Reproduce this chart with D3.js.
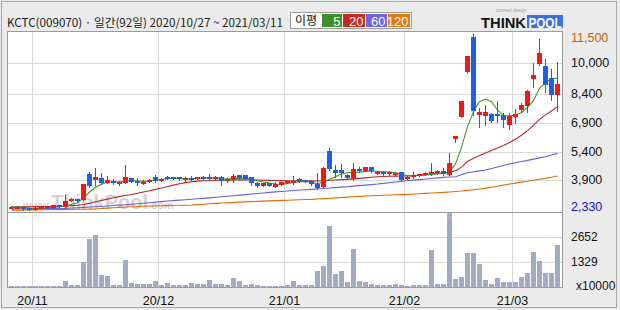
<!DOCTYPE html>
<html>
<head>
<meta charset="utf-8">
<script src="https://cdn.jsdelivr.net/npm/d3@7"></script>
<style>
  body { margin: 0; background: #ebebeb; }
  svg { display: block; }
</style>
</head>
<body>
<svg id="chart" width="620" height="310"></svg>
<script>
// trading days shown (92)
const dates = [
  "2020-10-27","2020-10-28","2020-10-29","2020-10-30",
  "2020-11-02","2020-11-03","2020-11-04","2020-11-05","2020-11-06","2020-11-09","2020-11-10","2020-11-11",
  "2020-11-12","2020-11-13","2020-11-16","2020-11-17","2020-11-18","2020-11-19","2020-11-20","2020-11-23",
  "2020-11-24","2020-11-25","2020-11-26","2020-11-27","2020-11-30",
  "2020-12-01","2020-12-02","2020-12-03","2020-12-04","2020-12-07","2020-12-08","2020-12-09","2020-12-10",
  "2020-12-11","2020-12-14","2020-12-15","2020-12-16","2020-12-17","2020-12-18","2020-12-21","2020-12-22",
  "2020-12-23","2020-12-24","2020-12-28","2020-12-29","2020-12-30",
  "2021-01-04","2021-01-05","2021-01-06","2021-01-07","2021-01-08","2021-01-11","2021-01-12","2021-01-13",
  "2021-01-14","2021-01-15","2021-01-18","2021-01-19","2021-01-20","2021-01-21","2021-01-22","2021-01-25",
  "2021-01-26","2021-01-27","2021-01-28","2021-01-29",
  "2021-02-01","2021-02-02","2021-02-03","2021-02-04","2021-02-05","2021-02-08","2021-02-09","2021-02-10",
  "2021-02-15","2021-02-16","2021-02-17","2021-02-18","2021-02-19","2021-02-22","2021-02-23","2021-02-24",
  "2021-02-25","2021-02-26",
  "2021-03-02","2021-03-03","2021-03-04","2021-03-05","2021-03-08","2021-03-09","2021-03-10","2021-03-11"
];

const opens  = [2490,2500,2520,2440,2400,2470,2510,2450,2600,2530, 2870,2925,2870,4230,3915,4020,3775,3865,3705,3775,
                4005,3865,3740,3810,4090,3880,4090,4060,4075,3950, 4040,3970,4090,4075,3985,4090,3880,3915,4175,4160,
                4075,3775,3620,3760,3570,3675,3775,3775,3970,3900, 3860,3705,3570,5445,4435,4435,4175,3950,4470,4405,
                4575,4265,4350,4230,4175,4315,4005,4090,4125,4175, 4230,4265,4385,4175,6055,7220,9530,11355,7305,7255,
                7355,7340,7305,6785,7185,7565,7775,9165,9945,9860, 9215,8350];
const highs  = [2560,2560,2530,2460,2500,2540,2530,2620,2620,3130, 2990,2950,3710,4350,4560,4265,4140,3950,3880,4700,
                4020,4005,3915,3950,4175,4010,4140,4090,4090,4090, 4125,4090,4140,4230,4110,4125,4005,4230,4190,4170,
                4090,3830,3780,3780,3795,3830,3915,4140,4040,3910, 3880,4265,4610,5565,4700,4750,4230,4785,4610,4590,
                4590,4380,4380,4370,4280,4330,4100,4350,4240,4310, 4785,4420,4525,5305,6210,8035,10380,11500,7655,7825,
                7390,8055,7390,7390,7600,7950,8610,10035,11270,10205, 9685,10085];
const lows   = [2470,2480,2380,2330,2380,2450,2460,2440,2520,2520, 2820,2800,2860,3570,3655,3705,3740,3705,3655,3740,
                3810,3655,3705,3790,3830,3860,3950,3990,3940,3880, 3880,3950,3950,3950,3970,3655,3830,3830,3990,3950,
                3655,3535,3600,3600,3570,3650,3740,3705,3795,3810, 3670,3430,3570,4435,4090,4090,4005,3915,4350,4380,
                4350,4240,4200,4200,4160,3900,3990,4005,4100,4160, 4175,4250,4175,4175,5915,7220,9480,7305,6695,6785,
                6950,6960,6695,6560,6870,7480,7480,8750,9910,8520, 8085,7530];
const closes = [2530,2530,2420,2390,2480,2520,2480,2600,2540,2820, 2910,2840,3705,3600,4090,3740,3915,3775,3830,4090,
                3830,3740,3830,3915,3880,3985,3985,4040,3950,4020, 3950,4075,3985,3970,4090,3880,3970,4125,4005,3970,
                3740,3605,3760,3620,3705,3810,3880,3865,3830,3830, 3690,3480,4525,4470,4300,4300,4040,4470,4420,4575,
                4370,4350,4230,4350,4265,3915,4090,4175,4230,4300, 4350,4370,4230,4785,6210,8035,10380,7530,7480,7480,
                7010,7290,7045,7255,7355,7825,8575,9390,10520,8870, 8350,8920];

// volume, x10000 shares
const volumes = [70,70,50,50,50,50,50,50,50,335, 120,120,1308,2565,2742,653,565,120,120,1415,
                 229,176,176,176,335,120,229,120,120,120, 229,176,176,388,176,176,120,494,335,120,
                 176,120,70,70,70,70,120,335,120,120, 120,866,1131,3220,707,830,246,2034,335,282,
                 176,120,120,120,176,120,50,120,85,120, 1981,176,176,3893,441,547,1822,1822,1238,388,
                 176,494,246,282,282,547,760,1875,1397,724, 760,2247];

// moving averages as drawn
const ma5   = [2500,2510,2490,2460,2440,2440,2460,2490,2520,2560, 2650,2734,3000,3280,3540,3700,3800,3825,3812,3864,
               3881,3864,3846,3864,3916,3934,3986,4003,4003,3986, 3986,4003,4010,4020,4030,3990,3970,3990,4003,4020,
               3951,3881,3812,3760,3707,3690,3740,3790,3829,3840, 3800,3725,3812,3951,4090,4229,4298,4316,4330,4368,
               4385,4368,4351,4333,4298,4212,4142,4142,4160,4177, 4212,4247,4264,4351,4750,5620,6697,7479,8000,8139,
               8000,7566,7288,7253,7305,7427,7705,8053,8695,8991, 9200,9217];
const ma20  = [2520,2522,2524,2526,2528,2530,2535,2540,2550,2560, 2580,2600,2640,2700,2780,2850,2920,2990,3050,3110,
               3160,3225,3290,3360,3430,3500,3580,3650,3720,3780, 3830,3860,3880,3895,3905,3912,3915,3920,3925,3925,
               3920,3910,3905,3900,3890,3885,3880,3878,3876,3876, 3870,3865,3880,3905,3920,3935,3950,3975,4000,4030,
               4060,4085,4100,4110,4120,4125,4135,4145,4170,4200, 4230,4260,4290,4305,4400,4590,4880,5050,5190,5320,
               5450,5580,5720,5870,6040,6250,6490,6760,7080,7310, 7510,7740];
const ma60  = [2400,2405,2410,2414,2418,2422,2426,2430,2435,2440, 2457,2475,2492,2509,2526,2546,2566,2586,2607,2627,
               2647,2676,2705,2734,2763,2792,2821,2844,2867,2890, 2914,2937,2960,2988,3016,3043,3071,3099,3128,3157,
               3186,3215,3244,3273,3297,3322,3346,3371,3395,3412, 3429,3452,3475,3498,3522,3545,3568,3596,3624,3651,
               3679,3707,3742,3777,3811,3846,3881,3910,3939,3968, 3997,4026,4055,4072,4090,4194,4298,4344,4391,4437,
               4515,4594,4672,4750,4814,4878,4942,5005,5069,5133, 5220,5306];
const ma120 = [2340,2345,2350,2355,2360,2365,2370,2372,2375,2380, 2385,2390,2395,2400,2405,2430,2450,2470,2490,2510,
               2525,2540,2550,2560,2568,2575,2583,2590,2598,2605, 2613,2635,2657,2680,2700,2717,2735,2752,2765,2778,
               2791,2804,2817,2830,2843,2856,2866,2877,2887,2898, 2908,2927,2946,2966,2985,3005,3024,3044,3063,3082,
               3095,3107,3120,3132,3145,3157,3169,3186,3204,3221, 3238,3256,3273,3296,3320,3343,3378,3412,3447,3481,
               3538,3594,3651,3707,3756,3806,3855,3904,3954,4003, 4064,4125];

const maPeriods = ["5", "20", "60", "120"];
const maColors  = ["#3a9a26", "#b8262a", "#6a5fdc", "#e06c00"];
const legendColors = ["#3d8f2a", "#c52a20", "#6a66dd", "#e07a10"];

const monthTicks  = ["2020-11-02", "2020-12-01", "2021-01-04", "2021-02-01", "2021-03-02"];
const monthLabels = ["20/11", "20/12", "21/01", "21/02", "21/03"];
const priceTicks  = [11500, 10000, 8400, 6900, 5400, 3900, 2330];
const priceLabels = ["11,500", "10,000", "8,400", "6,900", "5,400", "3,900", "2,330"];
const volTicks  = [2652, 1329];
const volLabels = ["2652", "1329"];

const svg = d3.select("#chart");
const plotL = 8, plotR = 562, priceTop = 32, priceBot = 212, volBot = 287;

const x = d3.scaleBand().domain(dates).range([plotL, 560]).padding(0);
const y = d3.scaleLinear().domain([2250, 11630]).range([priceBot, priceTop]);
const yv = d3.scaleLinear().domain([0, 3990]).range([volBot, priceBot]);
const cx = d => x(d) + 3.5;
const px = v => Math.round(v);

// background + plot area
svg.append("rect").attr("width", 620).attr("height", 310).attr("fill", "#ebebeb");
svg.append("rect").attr("x", 1.5).attr("y", 1.5).attr("width", 615).attr("height", 306)
  .attr("fill", "none").attr("stroke", "#a8a8a8");
svg.append("rect").attr("x", plotL).attr("y", priceTop).attr("width", plotR - plotL).attr("height", volBot - priceTop)
  .attr("fill", "#fff");

// grid
const grid = svg.append("g").attr("stroke", "#d9d9d9").attr("stroke-width", 1);
grid.selectAll("line.v").data(monthTicks).join("line").attr("class", "v")
  .attr("x1", d => x(d) + 0.5).attr("x2", d => x(d) + 0.5)
  .attr("y1", priceTop).attr("y2", volBot);
grid.selectAll("line.h").data(priceTicks.slice(1, -1)).join("line").attr("class", "h")
  .attr("x1", plotL).attr("x2", plotR)
  .attr("y1", d => px(y(d)) + 0.5).attr("y2", d => px(y(d)) + 0.5);
grid.selectAll("line.hv").data(volTicks).join("line").attr("class", "hv")
  .attr("x1", plotL).attr("x2", plotR)
  .attr("y1", d => px(yv(d)) + 0.5).attr("y2", d => px(yv(d)) + 0.5);

// watermark
const wm = svg.append("text").attr("x", 23).attr("y", 209)
  .attr("fill", "#d4d4d4").attr("font-family", "Liberation Sans, Arial, sans-serif").attr("font-weight", "bold");
wm.append("tspan").attr("font-size", 11).text("www.");
wm.append("tspan").attr("font-size", 20).text("ThinkPool");
wm.append("tspan").attr("font-size", 11).text(".com");

// moving averages
const mas = [ma5, ma20, ma60, ma120];
const line = d3.line().x((v, i) => cx(dates[i])).y(v => y(v));
svg.append("g").selectAll("path").data(mas.slice().reverse()).join("path")
  .attr("d", line)
  .attr("fill", "none")
  .attr("stroke", (d, i) => maColors[3 - i])
  .attr("stroke-width", 1.1);

// candles
const upColor = "#f21818", downColor = "#1f5fe3";
const candle = svg.append("g").selectAll("g").data(dates).join("g")
  .attr("fill", (d, i) => closes[i] >= opens[i] ? upColor : downColor)
  .attr("stroke", (d, i) => closes[i] >= opens[i] ? upColor : downColor);
candle.append("line")
  .attr("x1", d => cx(d)).attr("x2", d => cx(d))
  .attr("y1", (d, i) => px(y(highs[i]))).attr("y2", (d, i) => px(y(lows[i])) + 1)
  .attr("stroke-width", 1);
candle.append("rect")
  .attr("x", d => x(d) + 1)
  .attr("width", 5)
  .attr("y", (d, i) => px(y(Math.max(opens[i], closes[i]))))
  .attr("height", (d, i) => Math.max(2, px(y(Math.min(opens[i], closes[i]))) - px(y(Math.max(opens[i], closes[i])))))
  .attr("stroke", "none");

// volume
svg.append("g").selectAll("rect").data(dates).join("rect")
  .attr("x", d => x(d) + 1)
  .attr("width", 5)
  .attr("y", (d, i) => px(yv(volumes[i])))
  .attr("height", (d, i) => volBot - px(yv(volumes[i])))
  .attr("fill", "#a3abc4");

// marker on panel divider
svg.append("rect").attr("x", 447).attr("y", 213).attr("width", 5).attr("height", 6).attr("fill", "#a8b0c8");

// plot borders
const border = svg.append("g").attr("stroke", "#9c9c9c").attr("fill", "none");
border.append("rect").attr("x", plotL - 0.5).attr("y", priceTop - 0.5)
  .attr("width", plotR - plotL + 1).attr("height", volBot - priceTop + 1);
border.append("line").attr("x1", plotL).attr("x2", plotR).attr("y1", priceBot + 0.5).attr("y2", priceBot + 0.5);

// price axis
const font = "Liberation Sans, Arial, sans-serif";
const yAxis = svg.append("g").attr("transform", `translate(${plotR},0)`)
  .call(d3.axisRight(y).tickValues(priceTicks).tickFormat((d, i) => priceLabels[i]).tickSize(0).tickPadding(9));
yAxis.select(".domain").remove();
yAxis.attr("font-family", font).attr("font-size", 12.5);
yAxis.selectAll(".tick").attr("transform", d => `translate(0,${Math.min(207, Math.max(38, y(d)))})`);
yAxis.selectAll("text").attr("fill", d => d === 11500 ? "#c8600e" : d === 2330 ? "#1414c0" : "#111");

// volume axis
const vAxis = svg.append("g").attr("transform", `translate(${plotR},0)`)
  .call(d3.axisRight(yv).tickValues(volTicks).tickFormat((d, i) => volLabels[i]).tickSize(0).tickPadding(9));
vAxis.select(".domain").remove();
vAxis.attr("font-family", font).attr("font-size", 12);
vAxis.selectAll("text").attr("fill", "#111");
svg.append("text").attr("x", 576).attr("y", 290).attr("font-family", font).attr("font-size", 12)
  .attr("fill", "#111").text("x10000");

// month labels
svg.append("g").selectAll("text").data(monthTicks).join("text")
  .attr("x", d => x(d) + 0.5).attr("y", 305)
  .attr("text-anchor", "middle").attr("font-family", font).attr("font-size", 12.5).attr("fill", "#111")
  .text((d, i) => monthLabels[i]);

// title
svg.append("text").attr("x", 7).attr("y", 26.5)
  .attr("font-family", "Noto Sans CJK KR, sans-serif").attr("font-size", 11.5).attr("fill", "#222")
  .attr("textLength", 276).attr("lengthAdjust", "spacingAndGlyphs")
  .text("KCTC(009070) · 일간(92일) 2020/10/27 ~ 2021/03/11");

// MA legend
const lg = svg.append("g");
lg.append("rect").attr("x", 290.5).attr("y", 12.5).attr("width", 121).attr("height", 16)
  .attr("fill", "#fff").attr("stroke", "#9c9c9c");
lg.append("text").attr("x", 306).attr("y", 25).attr("text-anchor", "middle")
  .attr("font-family", "Noto Sans CJK KR, sans-serif").attr("font-size", 12).attr("fill", "#111").text("이평");
const boxX = [322, 343, 366, 388], boxW = [20, 22, 21, 22];
const lgItems = lg.selectAll("g.it").data(maPeriods).join("g").attr("class", "it");
lgItems.append("rect").attr("x", (d, i) => boxX[i]).attr("y", 14).attr("width", (d, i) => boxW[i]).attr("height", 13)
  .attr("fill", (d, i) => legendColors[i]);
lgItems.append("text").attr("x", (d, i) => boxX[i] + boxW[i] - 1.5).attr("y", 25.5).attr("text-anchor", "end")
  .attr("font-family", font).attr("font-size", 13).attr("fill", "#fff").text(d => d);

// logo
const logo = svg.append("g");
logo.append("text").attr("x", 496).attr("y", 12).attr("font-family", font).attr("font-size", 4.5)
  .attr("fill", "#a0a0a0").text("connect  design");
logo.append("text").attr("x", 481).attr("y", 27.5).attr("font-family", font).attr("font-weight", "bold")
  .attr("font-size", 14).attr("fill", "#111").attr("textLength", 45).attr("lengthAdjust", "spacingAndGlyphs").text("THINK");
logo.append("rect").attr("x", 527).attr("y", 15).attr("width", 36).attr("height", 13).attr("fill", "#3a70e0");
logo.append("text").attr("x", 528.5).attr("y", 27.5).attr("font-family", font).attr("font-weight", "bold")
  .attr("font-size", 14).attr("fill", "#fff").attr("textLength", 33).attr("lengthAdjust", "spacingAndGlyphs").text("POOL");
</script>
</body>
</html>
